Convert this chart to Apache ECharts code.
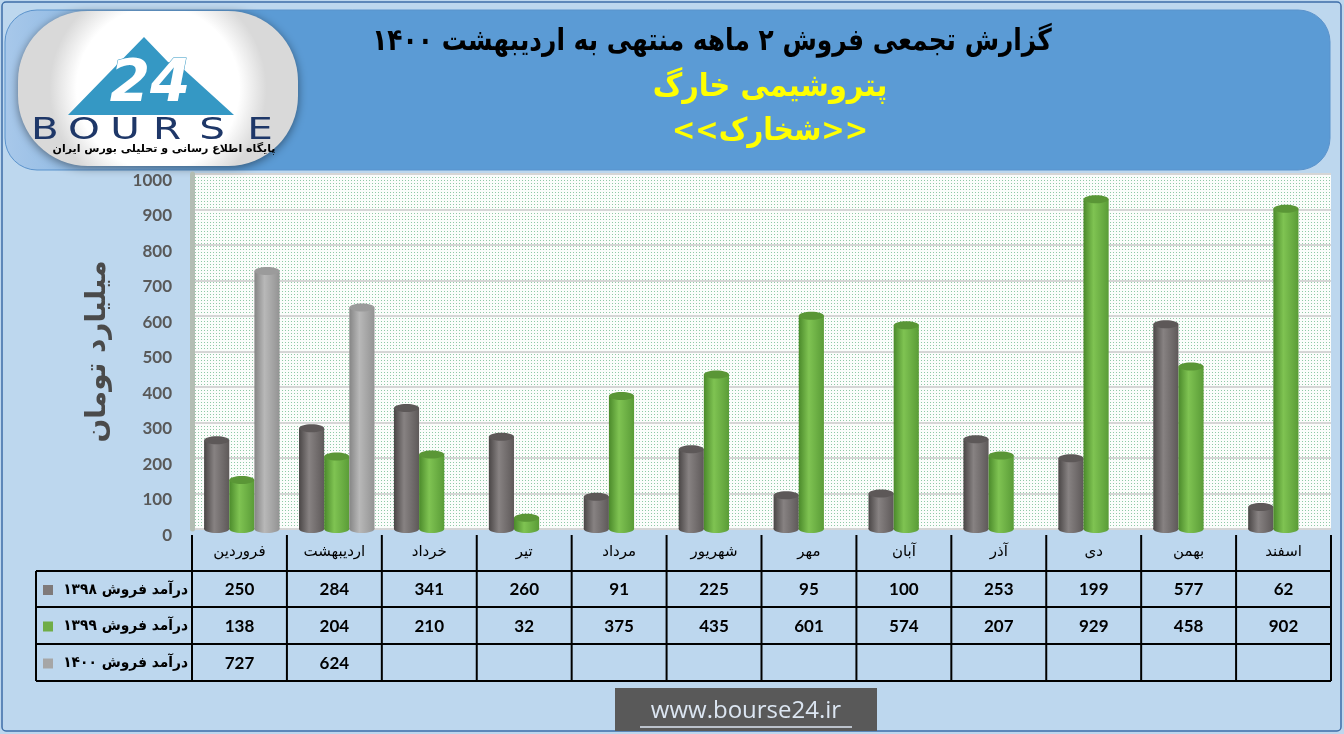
<!DOCTYPE html>
<html><head><meta charset="utf-8">
<script src="https://cdn.jsdelivr.net/npm/echarts@6/dist/echarts.min.js"></script>
<style>html,body{margin:0;padding:0;background:#bdd7ee;}#c{width:1344px;height:734px;}</style>
</head><body><div id="c"></div>
<script>
// ---------- data ----------
const months = ['فروردین','اردیبهشت','خرداد','تیر','مرداد','شهریور','مهر','آبان','آذر','دی','بهمن','اسفند'];
const sales1398 = [250,284,341,260,91,225,95,100,253,199,577,62];
const sales1399 = [138,204,210,32,375,435,601,574,207,929,458,902];
const sales1400 = [727,624,null,null,null,null,null,null,null,null,null,null];
const seriesNames = ['درآمد فروش ۱۳۹۸','درآمد فروش ۱۳۹۹','درآمد فروش ۱۴۰۰'];
const yTicks = [0,100,200,300,400,500,600,700,800,900,1000];
const titleLine1 = 'گزارش تجمعی فروش ۲ ماهه منتهی به اردیبهشت ۱۴۰۰';
const titleLine2 = 'پتروشیمی خارگ';
const titleLine3 = '<<شخارک>>';
const yName = 'میلیارد تومان';
const siteUrl = 'www.bourse24.ir';
const logoSub = 'پایگاه اطلاع رسانی و تحلیلی بورس ایران';

// ---------- styles ----------
const FA = '"DejaVu Sans", sans-serif';
const NUM = 'Lato, "Open Sans", sans-serif';
const palette = [
  {stops:['#4a4646','#878282','#5e5959'], cap:'#5d5858', key:'#7f7a7a'},
  {stops:['#4b8a2b','#7fc352','#5a9c37'], cap:'#5a9636', key:'#70ad47'},
  {stops:['#858585','#b8b8b8','#939393'], cap:'#9b9b9b', key:'#a6a6a6'}
];
function grad(p){
  return new echarts.graphic.LinearGradient(0,0,1,0,[
    {offset:0,color:p.stops[0]},{offset:0.4,color:p.stops[1]},{offset:1,color:p.stops[2]}]);
}
function cylinder(sIdx){
  const p = palette[sIdx];
  return function(params, api){
    const v = api.value(1);
    if (v == null || isNaN(v)) return null;
    const i = api.value(0);
    const top = api.coord([i, v]);
    const base = api.coord([i, 0]);
    const band = api.size([1, 0])[0];
    const w = band * 0.265;
    const cx = top[0] + (sIdx - 1) * w + band * 0.025;
    const ry = 4;
    return {type:'group', children:[
      {type:'rect', shape:{x:cx - w/2, y:top[1], width:w, height:base[1]-top[1]}, style:{fill:grad(p)}},
      {type:'ellipse', shape:{cx:cx, cy:base[1], rx:w/2, ry:ry}, style:{fill:grad(p)}},
      {type:'ellipse', shape:{cx:cx, cy:top[1], rx:w/2, ry:ry}, style:{fill:p.cap}}
    ]};
  };
}
function toData(arr){ return arr.map((v,i)=>[i, v]); }

// dotted pattern for plot background
const pc = document.createElement('canvas');
pc.width = 3; pc.height = 3;
const pctx = pc.getContext('2d');
pctx.fillStyle = '#fbfdfb'; pctx.fillRect(0,0,3,3);
pctx.fillStyle = '#8fc9a6'; pctx.fillRect(0,0,1,1);

const chart = echarts.init(document.getElementById('c'), null, {renderer:'canvas'});
const GRID = {left:192, right:13, top:174, bottom:205};
chart.setOption({
  backgroundColor:'#bdd7ee',
  animation:false,
  grid:{left:GRID.left, right:GRID.right, top:GRID.top, bottom:GRID.bottom, show:true,
        backgroundColor:{image:pc, repeat:'repeat'}, borderWidth:0},
  xAxis:{type:'category', data:months,
    axisLine:{show:false}, axisTick:{show:false},
    axisLabel:{color:'#000', fontFamily:FA, fontSize:15, margin:16}},
  yAxis:{type:'value', min:yTicks[0], max:yTicks[yTicks.length-1], interval:100,
    name:yName, nameLocation:'middle', nameGap:80, nameRotate:90,
    nameTextStyle:{fontFamily:FA, fontSize:28, fontWeight:'bold', color:'#4a4a4a'},
    axisLine:{show:true, lineStyle:{color:'#b3bdb3', width:5}},
    axisTick:{show:false},
    axisLabel:{color:'#595959', fontFamily:NUM, fontSize:17, fontWeight:'bold', margin:20,
      verticalAlign:'top', lineHeight:13, formatter:(v)=>String(v)},
    splitLine:{lineStyle:{color:'#d6d6d6', width:2}}},
  series:[
    {type:'custom', name:seriesNames[0], renderItem:cylinder(0), data:toData(sales1398), encode:{x:0,y:1}},
    {type:'custom', name:seriesNames[1], renderItem:cylinder(1), data:toData(sales1399), encode:{x:0,y:1}},
    {type:'custom', name:seriesNames[2], renderItem:cylinder(2), data:toData(sales1400.filter(v=>v!=null)), encode:{x:0,y:1}}
  ]
});

// ---------- decorations & table (positions from the axis) ----------
const centers = months.map((m,i)=>chart.convertToPixel({xAxisIndex:0}, i));
const band = centers.length > 1 ? centers[1]-centers[0] : 95;
const colEdges = centers.map(c=>c-band/2).concat([centers[centers.length-1]+band/2]);
const tblLeft = 36, tblRight = colEdges[colEdges.length-1];
const rowLines = [571, 607, 644, 681];
const headerTop = 535;
const g = [];

// outer frame
g.push({type:'rect', z:-10, shape:{x:2,y:2,width:1339,height:729,r:4}, style:{fill:'#bdd7ee', stroke:'#3e6ea8', lineWidth:1.5}});
// banner
g.push({type:'rect', z:-5, shape:{x:5,y:10,width:1325,height:160,r:32},
  style:{fill:new echarts.graphic.LinearGradient(0,0,1,0,[{offset:0,color:'#a8c8ea'},{offset:0.18,color:'#5b9bd5'},{offset:1,color:'#5b9bd5'}]),
         stroke:'#5b93cc', lineWidth:1}});
// titles
g.push({type:'text', x:712, y:42, scaleX:0.83, style:{x:0,y:0,text:titleLine1,fill:'#000',font:'bold 30px '+FA,align:'center',verticalAlign:'middle'}});
g.push({type:'text', x:770, y:88, scaleX:0.9, style:{x:0,y:0,text:titleLine2,fill:'#ffff00',font:'bold 32px '+FA,align:'center',verticalAlign:'middle'}});
g.push({type:'text', x:770, y:132, scaleX:0.9, style:{x:0,y:0,text:titleLine3,fill:'#ffff00',font:'bold 31px '+FA,align:'center',verticalAlign:'middle'}});

// logo
g.push({type:'rect', shape:{x:18,y:11,width:280,height:155,r:70},
  style:{fill:new echarts.graphic.RadialGradient(0.5,0.5,0.7,[{offset:0,color:'#ffffff'},{offset:0.75,color:'#ffffff'},{offset:1,color:'#d9d9d9'}]),
         shadowBlur:10, shadowColor:'rgba(0,0,0,0.45)', shadowOffsetY:2}});
g.push({type:'polygon', shape:{points:[[68,115],[144,37],[168,62],[180,66],[234,115]]}, style:{fill:'#3598c4'}});
g.push({type:'text', style:{x:150,y:86,text:'24',fill:'#ffffff',stroke:'#3598c4',lineWidth:1,font:'italic bold 58px "DejaVu Sans"',align:'center',verticalAlign:'middle'}});
const bourse = ['B','O','U','R','S','E'];
const bx = [45,84,125,167,212,260];
bourse.forEach((ch,k)=>g.push({type:'text', x:bx[k], y:131, scaleX:1.35,
  style:{x:0,y:0,text:ch,fill:'#1e3768',font:'30px "DejaVu Sans"',align:'center',verticalAlign:'middle'}}));
g.push({type:'text', style:{x:164,y:149,text:logoSub,fill:'#000',font:'bold 11px '+FA,align:'center',verticalAlign:'middle'}});

// table lines
colEdges.forEach((x)=>g.push({type:'line', shape:{x1:x,y1:headerTop,x2:x,y2:rowLines[3]}, style:{stroke:'#000',lineWidth:2}}));
g.push({type:'line', shape:{x1:tblLeft,y1:rowLines[0],x2:tblLeft,y2:rowLines[3]}, style:{stroke:'#000',lineWidth:2}});
rowLines.forEach((y)=>g.push({type:'line', shape:{x1:tblLeft,y1:y,x2:tblRight,y2:y}, style:{stroke:'#000',lineWidth:2}}));

// table rows
const rows = [sales1398, sales1399, sales1400];
rows.forEach((arr,r)=>{
  const cy = (rowLines[r]+rowLines[r+1])/2 + 1;
  g.push({type:'rect', shape:{x:43,y:cy-5,width:10,height:10}, style:{fill:palette[r].key}});
  g.push({type:'text', x:188, y:cy, scaleX:0.92, style:{x:0,y:0,text:seriesNames[r],fill:'#000',font:'bold 15px '+FA,align:'right',verticalAlign:'middle'}});
  arr.forEach((v,i)=>{
    if (v == null) return;
    g.push({type:'text', style:{x:centers[i],y:cy,text:String(v),fill:'#000',font:'bold 17px '+NUM,align:'center',verticalAlign:'middle'}});
  });
});

// site link box
g.push({type:'rect', shape:{x:615,y:688,width:262,height:43}, style:{fill:'#595959'}});
g.push({type:'text', style:{x:746,y:711,text:siteUrl,fill:'#dce6f2',font:'24px "Open Sans", sans-serif',align:'center',verticalAlign:'middle'}});
g.push({type:'line', shape:{x1:640,y1:727,x2:852,y2:727}, style:{stroke:'#dce6f2',lineWidth:1.5}});

chart.setOption({graphic:{elements:g}});
</script></body></html>
